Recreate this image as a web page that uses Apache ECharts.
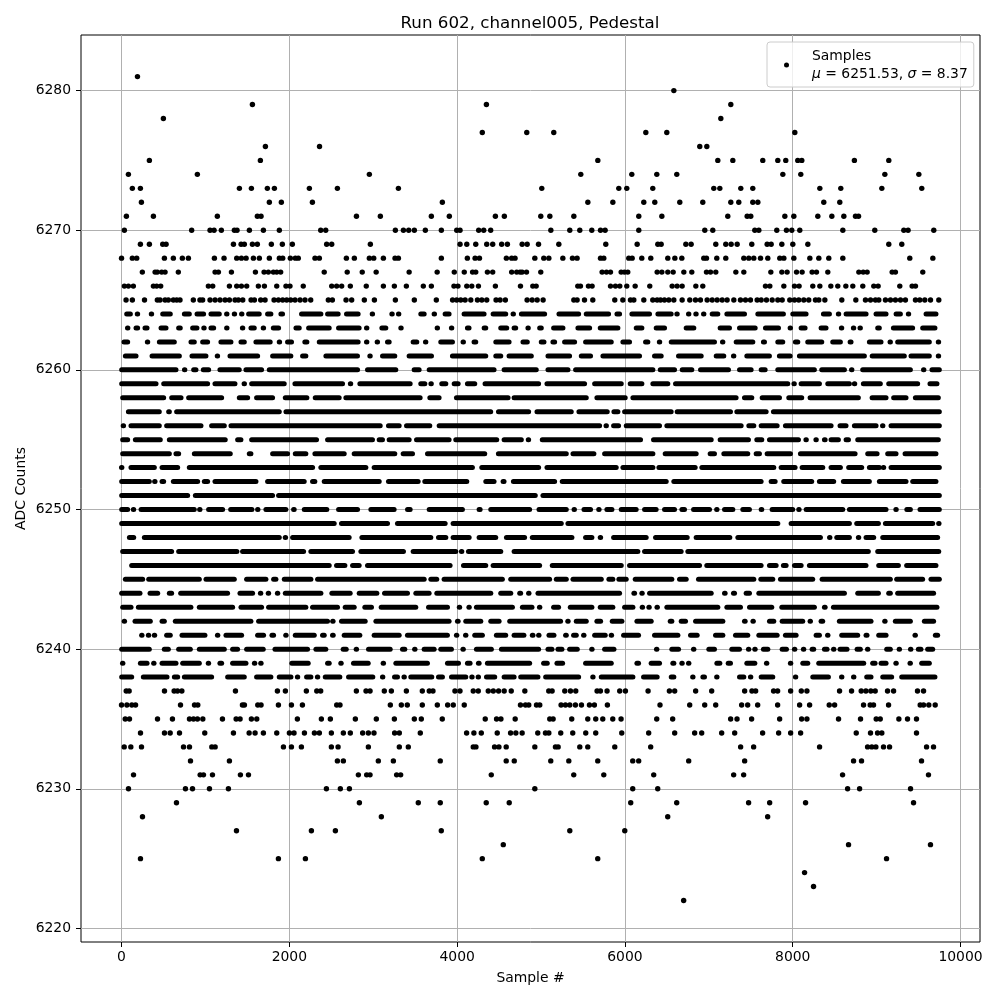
<!DOCTYPE html>
<html>
<head>
<meta charset="utf-8">
<title>Run 602, channel005, Pedestal</title>
<script src="https://cdn.jsdelivr.net/npm/echarts@6/dist/echarts.min.js"></script>
<style>html,body{margin:0;padding:0;background:#fff}#chart{width:1000px;height:1000px}</style>
</head>
<body>
<div id="chart"></div>
<script>
// tick labels
var xTicks = [0, 2000, 4000, 6000, 8000, 10000];
var yTicks = [6220, 6230, 6240, 6250, 6260, 6270, 6280];

// sparse rows: sample numbers read one by one, p<level>
var p6281 = [190];
var p6280 = [6583];
var p6279 = [1560, 4349, 7262];
var p6278 = [499, 7143];
var p6277 = [4300, 4830, 5152, 6249, 6499, 8025];
var p6276 = [1715, 2360, 6892, 6976];
var p6275 = [332, 1655, 5677, 7107, 7286, 7643, 7822, 7917, 8060, 8108, 8735, 9145];
var p6274 = [82, 904, 2954, 5474, 6082, 6380, 6618, 7882, 8096, 9098, 9503];
var p6273 = [129, 225, 1405, 1548, 1738, 1822, 2239, 2573, 3300, 5009, 5927, 6022, 6332, 7059, 7131, 7381, 7524, 8323, 8573, 9062, 9538];
var p6272 = [237, 1762, 1905, 2275, 3824, 5558, 5856, 6225, 6356, 6654, 6928, 7262, 7357, 7524, 7584, 8370, 8561];
var p6271 = [58, 380, 1142, 1619, 1663, 2800, 3085, 3693, 3907, 4456, 4563, 4997, 5105, 5391, 6165, 6440, 7226, 7457, 7500, 7906, 8013, 8299, 8466, 8609, 8748, 8784];
var p6270 = [34, 836, 1055, 1103, 1190, 1345, 1377, 1524, 1691, 1881, 2374, 2434, 3264, 3360, 3423, 3490, 3621, 3812, 3995, 4035, 4257, 4317, 4400, 5117, 5343, 5462, 5605, 5709, 5764, 6165, 6952, 7047, 7548, 7596, 7810, 7925, 7989, 8084, 8597, 8978, 9324, 9375, 9681];
var p6269 = [225, 332, 491, 531, 1334, 1425, 1464, 1560, 1619, 1786, 1917, 2036, 2445, 2505, 2966, 4035, 4115, 4222, 4353, 4424, 4531, 4599, 4775, 4835, 4970, 5212, 5772, 6146, 6392, 6432, 6726, 6789, 7083, 7202, 7266, 7338, 7512, 7695, 7743, 7870, 8001, 8180, 9145, 9300];
var p6268 = [0, 129, 181, 511, 618, 725, 797, 1107, 1222, 1373, 1429, 1485, 1572, 1643, 1762, 1881, 1921, 2012, 2072, 2107, 2306, 2358, 2680, 2775, 2954, 3006, 3121, 3260, 3300, 3812, 4122, 4214, 4266, 4587, 4650, 4690, 4926, 5033, 5093, 5260, 5375, 5430, 5709, 5748, 6046, 6086, 6201, 6308, 6511, 6595, 6678, 6940, 6972, 7095, 7202, 7417, 7476, 7536, 7616, 7703, 7846, 7894, 8013, 8204, 8311, 8430, 8597, 9395, 9670];
var p6267 = [248, 400, 427, 479, 519, 677, 1115, 1155, 1310, 1596, 1699, 1750, 1810, 1850, 1897, 2416, 2690, 2869, 3035, 3428, 3762, 3966, 4085, 4184, 4222, 4361, 4424, 4650, 4710, 4750, 4775, 4827, 4997, 5728, 5780, 5828, 5955, 5995, 6034, 6384, 6440, 6511, 6575, 6702, 6797, 6972, 7020, 7083, 7322, 7417, 7739, 7870, 7933, 8045, 8112, 8231, 8283, 8418, 8788, 8840, 8887, 9185, 9224, 9550];
var p6266 = [34, 82, 141, 380, 419, 467, 1035, 1087, 1286, 1373, 1429, 1492, 1631, 1703, 1850, 1960, 2008, 2166, 2505, 2564, 2624, 2727, 2917, 3121, 3252, 3395, 3597, 3693, 3962, 4010, 4115, 4175, 4254, 4456, 4755, 4902, 4942, 5438, 5470, 5565, 5609, 5828, 5887, 5939, 6022, 6122, 6296, 6563, 6622, 6682, 6845, 6928, 7675, 7727, 7894, 8021, 8076, 8239, 8323, 8454, 8537, 8633, 8716, 8835, 8966, 9018, 9276, 9423, 9463];
var p6265 = [54, 129, 274, 427, 459, 519, 558, 618, 658, 697, 856, 935, 967, 1055, 1115, 1174, 1234, 1286, 1353, 1393, 1445, 1544, 1584, 1659, 1711, 1818, 1870, 1921, 1969, 2016, 2068, 2128, 2187, 2255, 2465, 2513, 2676, 2743, 2894, 3014, 3264, 3490, 3752, 3946, 3995, 4043, 4095, 4163, 4242, 4294, 4353, 4464, 4512, 4575, 4834, 4894, 4954, 5025, 5391, 5430, 5518, 5617, 5879, 5975, 6066, 6106, 6225, 6332, 6384, 6424, 6471, 6523, 6583, 6682, 6773, 6841, 6900, 6980, 7040, 7099, 7159, 7218, 7298, 7377, 7437, 7496, 7576, 7624, 7687, 7755, 7822, 7874, 7965, 8021, 8072, 8132, 8191, 8271, 8311, 8383, 8585, 8752, 8867, 8927, 8986, 9026, 9105, 9165, 9224, 9284, 9343, 9463, 9514, 9574, 9642, 9741];
var p6237 = [56, 91, 512, 627, 667, 719, 1358, 1858, 1953, 2203, 2327, 2374, 2799, 2914, 2962, 3132, 3216, 3395, 3585, 3668, 3712, 3974, 4034, 4192, 4252, 4371, 4431, 4494, 4561, 4645, 4807, 5092, 5132, 5283, 5351, 5414, 5668, 5708, 5787, 5938, 6006, 6276, 6530, 6593, 6843, 7034, 7427, 7514, 7558, 7772, 7820, 7975, 8102, 8169, 8558, 8701, 8816, 8872, 8931, 8983, 9130, 9202, 9487, 9559];
var p6236 = [0, 64, 123, 167, 703, 870, 909, 1441, 1465, 1624, 1663, 1870, 2025, 2156, 2565, 2604, 3204, 3335, 3406, 3585, 3764, 3887, 3954, 4085, 4755, 4815, 4854, 4946, 4985, 5239, 5291, 5343, 5410, 5482, 5577, 5636, 5791, 6418, 6772, 6951, 7082, 7391, 7463, 7582, 7820, 8082, 8201, 8435, 8499, 8844, 8923, 8963, 9142, 9519, 9559, 9622, 9698];
var p6235 = [44, 95, 429, 607, 810, 858, 905, 969, 1203, 1366, 1413, 1548, 1612, 2096, 2382, 2489, 2787, 3037, 3252, 3490, 3573, 3823, 4335, 4470, 4522, 4692, 5104, 5144, 5366, 5557, 5652, 5736, 5855, 5954, 6379, 6569, 7260, 7336, 7510, 7844, 8106, 8169, 8546, 8808, 8995, 9043, 9265, 9368, 9475];
var p6234 = [226, 512, 580, 691, 992, 1334, 1521, 1592, 1691, 1850, 2001, 2056, 2180, 2299, 2358, 2501, 2644, 2727, 2874, 2942, 3009, 3255, 3311, 3561, 4113, 4200, 4288, 4478, 4637, 4700, 4775, 4961, 5053, 5093, 5235, 5378, 5533, 5652, 5962, 6283, 6593, 6831, 6915, 7153, 7308, 7641, 7832, 7975, 8094, 8757, 8927, 9011, 9062, 9475];
var p6233 = [32, 111, 238, 739, 810, 1076, 1116, 1930, 2025, 2144, 2501, 2581, 2942, 3311, 3418, 4192, 4224, 4446, 4498, 4585, 4926, 5172, 5204, 5462, 5557, 5879, 6307, 7379, 7534, 8320, 8892, 8943, 8991, 9082, 9154, 9595, 9678];
var p6232 = [822, 1286, 2573, 2644, 3061, 3240, 3799, 4585, 4681, 5116, 5331, 5676, 6093, 6164, 6760, 7427, 8725, 8820, 9535];
var p6231 = [143, 937, 977, 1084, 1417, 1513, 2823, 2922, 2962, 3279, 3327, 4407, 5390, 5748, 6343, 7296, 7415, 8594, 9618];
var p6230 = [83, 762, 846, 1048, 1274, 2442, 2608, 2716, 4926, 6093, 6391, 8654, 8797, 9404];
var p6229 = [655, 2835, 3537, 3799, 4347, 4621, 6069, 6617, 7474, 7725, 8153, 9440];
var p6228 = [250, 3097, 6510, 7701];
var p6227 = [1370, 2263, 2549, 3811, 5343, 5998];
var p6226 = [4550, 8665, 9642];
var p6225 = [226, 1870, 2192, 4300, 5676, 9118];
var p6224 = [8141];
var p6223 = [8248];
var p6222 = [6700];

// dense rows: the dots overlap, so only the first/last sample of each unbroken stretch can be read, r<level> = start,end,...
var r6264 = [32,135,190,190,357,357,461,611,719,838,870,1008,1036,1195,1223,1286,1346,1346,1433,1433,1485,1671,1711,1810,1870,1949,2116,2406,2426,2612,2652,2850,2990,2990,3208,3240,3303,3303,3537,3637,3728,3728,3827,3934,4053,4351,4399,4609,4669,4669,4736,5073,5184,5478,5509,5835,5875,5966,6053,6323,6363,6581,6621,6621,6760,6760,6847,6847,6939,6939,7010,7137,7185,7455,7554,7919,7971,8189,8336,8467,8546,8546,8606,8904,8963,9142,9202,9313,9380,9380,9559,9737];
var r6263 = [44,103,143,222,250,334,441,560,651,730,818,929,957,1008,1036,1128,1255,1255,1413,1473,1513,1612,1691,1691,1779,1902,2049,2148,2200,2505,2557,2862,2922,2922,3073,3180,3331,3331,3764,3764,3934,3934,4093,4172,4292,4371,4490,4621,4649,4728,4846,4846,4954,5033,5120,5291,5410,5609,5676,5946,6105,6232,6343,6502,6700,6851,7105,7276,7336,7582,7645,7860,7971,7971,8070,8177,8308,8427,8582,8582,8725,8725,8804,8804,8983,9062,9170,9459,9519,9725];
var r6262 = [0,103,310,310,421,659,798,897,937,1056,1155,1334,1394,1493,1572,1802,1882,1882,1949,2056,2155,2239,2327,2850,2922,2922,3049,3049,3140,3220,3446,3549,3625,3625,3775,3974,4073,4073,4172,4252,4431,4649,4755,4866,4973,5065,5112,5192,5251,5430,5501,5867,5946,6085,6216,6303,6383,6442,6522,7097,7165,7165,7296,7554,7621,7693,7792,7911,8002,8090,8149,8376,8447,8598,8654,8725,8884,9082,9142,9182,9221,9658,9737,9737];
var r6261 = [16,203,334,719,810,1036,1143,1143,1263,1652,1771,2048,2128,2227,2406,2842,2962,2962,3081,3287,3398,3724,3914,4371,4431,4550,4589,4914,5053,5370,5450,5620,5708,6204,6323,6462,6609,6939,7058,7208,7296,7296,7423,7752,7811,7999,8050,8884,8917,9360,9380,9658,9737,9737];
var r6260 = [-28,679,727,778,830,917,945,1068,1143,1433,1453,1699,1731,2843,2902,3299,3458,3577,3637,4470,4530,4973,5053,5351,5382,6363,6391,6621,6653,6827,6871,7264,7336,7534,7594,7701,7792,8288,8316,8646,8673,8733,8804,9432,9531,9591,9630,9777];
var r6259 = [-28,441,473,1056,1084,1382,1441,1485,1521,1969,2037,2664,2704,2755,2811,3470,3537,3645,3664,3716,3787,3895,3935,4042,4093,4240,4303,5001,5041,5549,5609,5986,6033,6232,6303,6541,6573,7971,7991,8042,8070,8348,8388,8705,8737,8737,8812,9074,9114,9519,9606,9749];
var r6258 = [-16,532,568,739,770,1223,1374,1533,1580,1830,1922,2239,2279,2624,2644,3589,3645,3815,3962,4637,4649,5569,5636,6033,6065,7355,7395,7542,7606,7872,7923,8137,8177,8812,8916,9142,9173,9380,9432,9765];
var r6257 = [52,480,532,600,627,1910,1930,4430,4463,4882,4922,5390,5422,5819,5839,5946,5966,6581,6593,7288,7304,7713,7740,9777];
var r6256 = [-8,52,83,480,508,977,1044,1255,1275,3113,3152,3339,3367,3704,3756,5728,5747,5807,5835,5954,5986,6442,6470,7415,7447,7566,7594,7844,7883,8487,8534,8665,8705,9023,9043,9102,9142,9777];
var r6255 = [-16,103,135,492,540,1266,1354,1453,1521,2354,2426,3021,3041,3140,3160,3458,3486,3934,3954,4502,4530,4795,4826,4874,4985,6216,6311,7058,7105,7502,7542,7661,7693,8098,8130,8189,8249,8308,8348,8416,8427,8574,8606,8694,8745,9765];
var r6254 = [-16,600,619,711,838,1326,1493,1572,1771,2009,2041,2227,2275,2684,2743,3287,3327,3498,3617,4359,4462,5331,5351,5660,5728,6363,6450,6879,6986,7097,7149,7494,7534,7633,7665,8003,8062,8773,8864,9035,9102,9261,9309,9737];
var r6253 = [-28,32,83,421,453,699,778,2307,2346,2942,2981,4212,4264,5001,5041,5926,5946,6363,6375,6867,6887,7804,7832,8058,8082,8388,8427,8598,8637,8852,8884,9062,9082,9082,9142,9777];
var r6252 = [-28,361,373,421,453,532,588,937,957,1056,1084,1632,1711,2207,2247,2334,2386,3101,3152,3565,3585,4145,4312,4470,4518,4589,4641,5192,5223,6522,6553,7653,7713,7820,7863,8256,8288,8518,8574,8943,9003,9380,9400,9737];
var r6251 = [-28,818,850,1830,1842,4961,4993,9777];
var r6250 = [-28,103,111,175,203,897,909,957,1008,1235,1271,1584,1604,1644,1691,1989,2021,2088,2148,2477,2557,2843,2942,3279,3379,3470,3637,4093,4232,4304,4371,4894,4946,5331,5370,5422,5482,5620,5660,5720,5755,5875,5926,6164,6204,6402,6442,6621,6649,6740,6788,7038,7066,7125,7157,7316,7375,7514,7594,7661,7724,8030,8050,8098,8130,8626,8646,9142,9202,9261,9330,9432,9487,9777];
var r6249 = [-28,2565,2592,3200,3259,3887,3922,5271,5291,7852,7951,8705,8733,9051,9075,9698,9718,9765];
var r6248 = [64,175,242,1910,1930,1977,2009,2743,2835,3716,3748,3895,3922,4173,4232,4490,4558,4834,4866,5398,5501,5636,5676,5740,5835,6283,6335,6772,6819,7280,7316,8360,8415,8467,8495,8705,8757,8812,8844,8995,9043,9757];
var r6247 = [-16,627,651,1405,1413,2200,2227,2783,2823,3390,3446,4014,4034,4073,4105,4550,4649,6184,6204,6700,6720,8931,8983,9770];
var r6246 = [91,2505,2533,2692,2724,2862,2902,3946,4046,4371,4399,5013,5104,5986,6025,6919,6946,7653,7693,7832,7859,7951,7991,8130,8169,8903,8995,9289,9328,9737];
var r6245 = [16,282,294,957,977,1374,1461,1751,1783,1870,1910,2287,2307,3637,3657,3787,3815,4569,4609,5132,5152,5331,5351,5748,5779,5886,5898,6045,6093,6589,6621,6760,6847,7566,7590,7792,7824,8268,8320,9193,9209,9578,9618,9777];
var r6244 = [-28,250,310,461,540,627,675,1294,1382,1592,1632,1683,1723,1779,1830,1890,1922,2406,2477,2755,2803,3073,3105,3438,3478,3696,3728,4431,4490,4669,4716,4787,4826,4882,4934,5966,6077,6145,6176,6232,6264,7058,7157,7224,7264,7336,7415,7514,7566,8646,8745,9051,9114,9193,9221,9709];
var r6243 = [-16,143,171,857,897,1354,1394,1699,1723,2227,2247,2604,2636,2803,2870,3009,3065,3537,3629,3915,4002,4054,4113,4172,4200,4689,4748,4922,4954,5013,5120,5239,5319,5636,5676,5886,5966,6125,6184,6232,6264,6311,6355,6414,6470,7137,7185,7407,7455,7780,7840,8288,8348,8416,8455,9749];
var r6242 = [4,64,131,373,453,540,611,1572,1604,2485,2493,2545,2592,2934,3002,3934,3974,4042,4073,4312,4371,4530,4597,5263,5291,5351,5390,5569,5636,5740,5819,5994,6113,6343,6510,6589,6641,6752,6812,7197,7395,7463,7502,7554,7693,7804,7844,8149,8189,8229,8308,8387,8526,8963,9075,9122,9193,9432,9539,9709];
var r6241 = [242,242,322,322,393,393,508,611,691,1024,1116,1175,1215,1461,1592,1723,1763,1842,1930,1989,2041,2327,2366,2446,2485,2553,2624,2870,2981,3339,3378,3914,3962,4026,4073,4132,4180,4331,4438,4609,4649,4826,4866,4934,4954,4993,5065,5184,5263,5331,5358,5450,5478,5541,5609,5795,5819,5859,5954,6192,6323,6661,6752,6891,7050,7197,7288,7494,7566,7844,7883,8070,8249,8348,8388,8447,8554,8804,8844,8915,8995,9142,9432,9487,9670,9757];
var r6240 = [-28,361,480,588,651,850,897,1255,1294,1413,1461,1719,1799,2247,2287,2465,2612,2708,2771,2827,2914,3232,3319,3406,3466,3525,3577,3756,3775,3962,4042,4101,4200,4438,4498,5001,5053,5160,5172,5279,5311,5462,5577,5636,5728,5899,6351,6406,6529,6669,6788,6851,6970,7097,7244,7395,7447,7502,7526,7574,7621,7733,7844,7955,7995,8050,8102,8157,8201,8280,8348,8439,8459,8518,8534,8677,8737,8836,8864,8923,9090,9193,9241,9300,9380,9432,9467,9558,9578,9698];
var r6239 = [-16,44,195,334,361,409,453,679,699,957,1008,1064,1143,1223,1294,1513,1560,1612,1632,1691,2000,2255,2426,2505,2588,2644,2735,2970,3089,3152,3240,3676,3855,4046,4093,4184,4224,4292,4331,4894,5001,5104,5160,5287,5501,5867,6113,6192,6283,6442,6541,6613,6653,6708,6732,6788,7066,7161,7201,7288,7423,7578,7661,7717,7947,8002,8090,8209,8280,8876,8923,9011,9023,9142,9202,9261,9368,9432,9507,9658];
var r6238 = [-28,151,230,572,600,699,719,1104,1235,1493,1580,1810,1850,2049,2068,2128,2176,2287,2307,2366,2398,2632,2676,3025,3081,3144,3224,3319,3339,3398,3418,3728,3748,3855,3903,4133,4153,4201,4221,4284,4320,4478,4530,4709,4728,4993,5025,5478,5589,5648,5688,6125,6192,6414,6522,6613,6780,6839,6899,6978,7066,7125,7336,7447,7470,7526,7594,7792,8002,8066,8209,8455,8554,8614,8697,8757,8852,8963,9043,9209,9269,9725];

var sparseLevels = [6281,6280,6279,6278,6277,6276,6275,6274,6273,6272,6271,6270,6269,6268,6267,6266,6265,6237,6236,6235,6234,6233,6232,6231,6230,6229,6228,6227,6226,6225,6224,6223,6222];
var sparseRows = [p6281,p6280,p6279,p6278,p6277,p6276,p6275,p6274,p6273,p6272,p6271,p6270,p6269,p6268,p6267,p6266,p6265,p6237,p6236,p6235,p6234,p6233,p6232,p6231,p6230,p6229,p6228,p6227,p6226,p6225,p6224,p6223,p6222];
var denseLevels = [6264,6263,6262,6261,6260,6259,6258,6257,6256,6255,6254,6253,6252,6251,6250,6249,6248,6247,6246,6245,6244,6243,6242,6241,6240,6239,6238];
var denseRows = [r6264,r6263,r6262,r6261,r6260,r6259,r6258,r6257,r6256,r6255,r6254,r6253,r6252,r6251,r6250,r6249,r6248,r6247,r6246,r6245,r6244,r6243,r6242,r6241,r6240,r6239,r6238];

var points = [];
sparseRows.forEach(function (row, i) {
	row.forEach(function (s) { points.push([s, sparseLevels[i]]); });
});
var stretches = [];
denseRows.forEach(function (row, i) {
	for (var k = 0; k < row.length; k += 2) {
		stretches.push([row[k], row[k + 1], denseLevels[i]]);
	}
});

var font = 'DejaVu Sans';
var dot = 5.4;
var stretchHeight = 5;

function drawStretch(params, api) {
	var a = api.coord([api.value(0), api.value(2)]);
	var b = api.coord([api.value(1), api.value(2)]);
	var w = b[0] - a[0];
	var x = a[0];
	if (w < dot) { x = (a[0] + b[0]) / 2 - dot / 2; w = dot; }
	return {
		type: 'rect',
		shape: { x: x, y: a[1] - stretchHeight / 2, width: w, height: stretchHeight, r: stretchHeight / 2 },
		style: { fill: '#000' }
	};
}

var chart = echarts.init(document.getElementById('chart'), null, { renderer: 'canvas' });
chart.setOption({
	animation: false,
	backgroundColor: '#fff',
	textStyle: { fontFamily: font },
	title: {
		text: 'Run 602, channel005, Pedestal',
		left: 525,
		top: 10,
		textAlign: 'center',
		textStyle: { fontFamily: font, fontSize: 16.7, fontWeight: 'normal', color: '#000' }
	},
	grid: { left: 81, right: 20, top: 35, bottom: 58, show: true, borderColor: '#000', borderWidth: 1, backgroundColor: 'transparent' },
	xAxis: {
		type: 'value',
		min: -483,
		max: 10232,
		name: 'Sample #',
		nameLocation: 'middle',
		nameGap: 29,
		nameTextStyle: { fontFamily: font, fontSize: 13.9, color: '#000' },
		axisLine: { show: false, onZero: false },
		axisTick: { show: true, length: 5, customValues: xTicks, lineStyle: { color: '#000' } },
		axisLabel: { customValues: xTicks, color: '#000', fontFamily: font, fontSize: 13.9, margin: 8, showMinLabel: true, showMaxLabel: true, formatter: function (v) { return String(v); } },
		splitLine: { show: true, lineStyle: { color: '#b0b0b0', width: 1 } }
	},
	yAxis: {
		type: 'value',
		min: 6219.03,
		max: 6283.98,
		name: 'ADC Counts',
		nameLocation: 'middle',
		nameGap: 53,
		nameMoveOverlap: false,
		nameTextStyle: { fontFamily: font, fontSize: 13.9, color: '#000' },
		axisLine: { show: false, onZero: false },
		axisTick: { show: true, length: 5, customValues: yTicks, lineStyle: { color: '#000' } },
		axisLabel: { customValues: yTicks, color: '#000', fontFamily: font, fontSize: 13.9, margin: 10, formatter: function (v) { return String(v); } },
		splitLine: { show: true, lineStyle: { color: '#b0b0b0', width: 1 } }
	},
	legend: {
		left: 767,
		top: 42,
		orient: 'vertical',
		padding: [5, 6, 4, 17],
		itemWidth: 5,
		itemHeight: 5,
		itemGap: 0,
		icon: 'circle',
		backgroundColor: 'rgba(255,255,255,0.8)',
		borderColor: '#ccc',
		borderWidth: 1,
		borderRadius: 3,
		data: ['Samples'],
		formatter: function () {
			return 'Samples\n{i|μ} = 6251.53, {i|σ} = 8.37';
		},
		textStyle: {
			fontFamily: font,
			fontSize: 13.9,
			color: '#000',
			lineHeight: 18,
			padding: [0, 0, 0, 18],
			rich: { i: { fontFamily: font, fontStyle: 'italic', fontSize: 13.9, color: '#000' } }
		}
	},
	series: [
		{
			name: 'Samples',
			type: 'scatter',
			symbol: 'circle',
			symbolSize: dot,
			itemStyle: { color: '#000', opacity: 1 },
			data: points,
			z: 3
		},
		{
			name: 'Samples',
			type: 'custom',
			renderItem: drawStretch,
			encode: { x: [0, 1], y: 2 },
			data: stretches,
			z: 3
		}
	]
});
</script>
</body>
</html>
